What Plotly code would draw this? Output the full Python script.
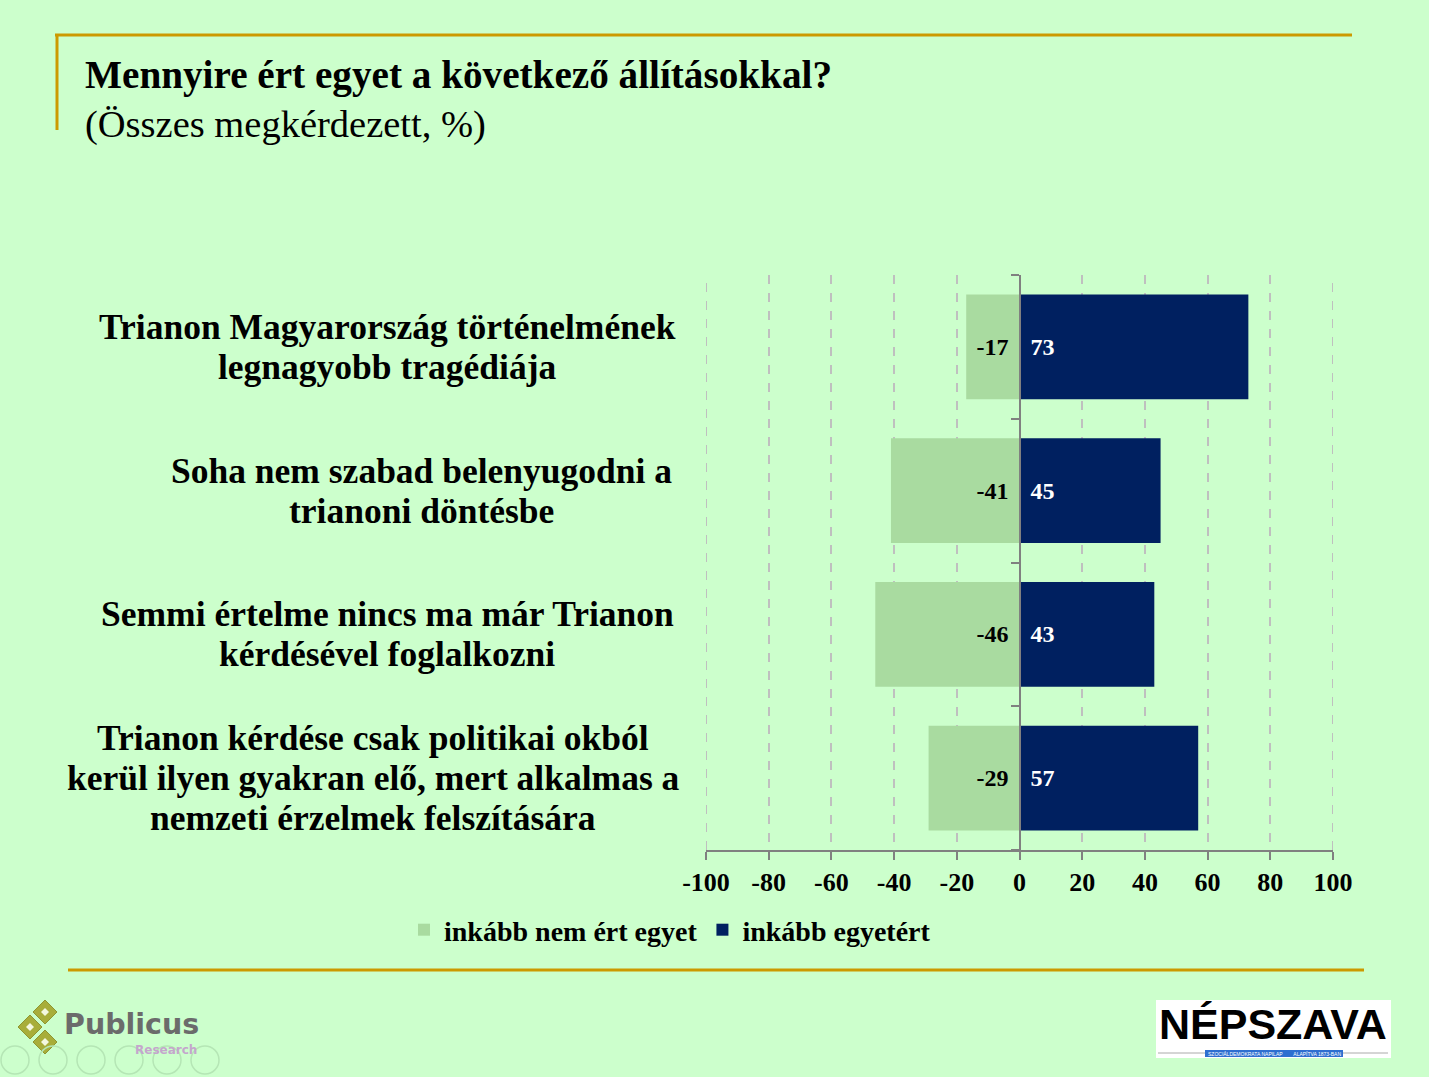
import plotly.graph_objects as go

W, H = 1429, 1077

categories = [
    "Trianon Magyarország történelmének<br>legnagyobb tragédiája",
    "Soha nem szabad belenyugodni a<br>trianoni döntésbe",
    "Semmi értelme nincs ma már Trianon<br>kérdésével foglalkozni",
    "Trianon kérdése csak politikai okból<br>kerül ilyen gyakran elő, mert alkalmas a<br>nemzeti érzelmek felszítására",
]
disagree = [-17, -41, -46, -29]
agree = [73, 45, 43, 57]
series_names = ["inkább nem ért egyet", "inkább egyetért"]
tick_vals = [-100, -80, -60, -40, -20, 0, 20, 40, 60, 80, 100]
tick_text = ["-100", "-80", "-60", "-40", "-20", "0", "20", "40", "60", "80", "100"]

title = "Mennyire ért egyet a következő állításokkal?"
subtitle = "(Összes megkérdezett, %)"

FONT = "Liberation Serif"
BG = "#CCFFCC"
LIGHT = "#A9DBA0"
DARK = "#002060"
GOLD = "#CC9900"
GRAY = "#808080"
GRID = "#BFBFBF"
PAD = "\u00a0\u200a"

# layout: horizontal centre (px) of each category label block, line spacing
label_centers = [387, 422, 387, 373]
LINE_GAP = 40

def px(x):
    return x / W

def py(y):
    return 1 - y / H

xd = [px(706), px(1333)]
yd = [py(850), py(275)]

fig = go.Figure()
fig.add_trace(go.Bar(
    y=categories, x=disagree, orientation="h", name=series_names[0],
    marker=dict(color=LIGHT, line=dict(width=0)),
    text=[str(v) + PAD for v in disagree], textposition="inside", insidetextanchor="start",
    textfont=dict(family=FONT, size=24, color="black", weight="bold"),
    hoverinfo="skip",
))
fig.add_trace(go.Bar(
    y=categories, x=agree, orientation="h", name=series_names[1],
    marker=dict(color=DARK, line=dict(width=0)),
    text=[PAD + str(v) for v in agree], textposition="inside", insidetextanchor="start",
    textfont=dict(family=FONT, size=24, color="white", weight="bold"),
    hoverinfo="skip",
))

annotations = []
for c, cx in zip(categories, label_centers):
    lines = c.split("<br>")
    n = len(lines)
    for i, ln in enumerate(lines):
        annotations.append(dict(
            x=px(cx), xref="paper", y=c, yref="y", text=ln, showarrow=False,
            xanchor="center", yanchor="middle", yshift=((n - 1) / 2 - i) * LINE_GAP,
            font=dict(family=FONT, size=35.5, color="black", weight="bold"),
        ))
annotations.append(dict(x=px(83), y=py(75), xref="paper", yref="paper", text=title,
                        showarrow=False, xanchor="left", yanchor="middle",
                        font=dict(family=FONT, size=39.2, color="black", weight="bold")))
annotations.append(dict(x=px(83), y=py(125), xref="paper", yref="paper", text=subtitle,
                        showarrow=False, xanchor="left", yanchor="middle",
                        font=dict(family=FONT, size=38.5, color="black")))
# Publicus logo text
annotations.append(dict(x=px(62), y=py(1024), xref="paper", yref="paper", text="<b>Publicus</b>",
                        showarrow=False, xanchor="left", yanchor="middle",
                        font=dict(family="DejaVu Sans", size=28.5, color="#6B6B6B")))
annotations.append(dict(x=px(199), y=py(1050), xref="paper", yref="paper", text="<b>Research</b>",
                        showarrow=False, xanchor="right", yanchor="middle",
                        font=dict(family="DejaVu Sans", size=12, color="#C4A6CC")))
# Népszava logo text
annotations.append(dict(x=px(1273), y=py(1024), xref="paper", yref="paper", text="<b>NÉPSZAVA</b>",
                        showarrow=False, xanchor="center", yanchor="middle",
                        font=dict(family="Liberation Sans", size=43, color="black")))
annotations.append(dict(x=px(1274), y=py(1054), xref="paper", yref="paper",
                        text="SZOCIÁLDEMOKRATA NAPILAP        ALAPÍTVA 1873-BAN",
                        showarrow=False, xanchor="center", yanchor="middle",
                        font=dict(family="Liberation Sans", size=5, color="white")))

shapes = [
    dict(type="line", xref="paper", yref="paper", x0=px(55), x1=px(1352), y0=py(35), y1=py(35),
         line=dict(color=GOLD, width=3)),
    dict(type="line", xref="paper", yref="paper", x0=px(57), x1=px(57), y0=py(35), y1=py(130),
         line=dict(color=GOLD, width=3)),
    dict(type="line", xref="paper", yref="paper", x0=px(68), x1=px(1364), y0=py(970), y1=py(970),
         line=dict(color=GOLD, width=3)),
    # Népszava box
    dict(type="rect", xref="paper", yref="paper", x0=px(1156), x1=px(1391), y0=py(1058), y1=py(1000),
         fillcolor="white", line=dict(width=0), layer="below"),
    dict(type="line", xref="paper", yref="paper", x0=px(1158), x1=px(1388), y0=py(1053), y1=py(1053),
         line=dict(color="#AAAAAA", width=1)),
    dict(type="rect", xref="paper", yref="paper", x0=px(1205), x1=px(1343), y0=py(1057), y1=py(1050),
         fillcolor="#2E6FD0", line=dict(width=0)),
]
# edge gridlines at the ends of the value axis (Plotly omits them)
for v in (tick_vals[0], tick_vals[-1]):
    shapes.append(dict(type="line", xref="x", yref="y domain", x0=v, x1=v, y0=0, y1=1,
                       line=dict(color=GRID, width=2, dash="dash"), layer="below"))
# Publicus diamonds
for cx, cy in [(45, 1012), (30, 1027), (45, 1042)]:
    s = 12
    path = "M {} {} L {} {} L {} {} L {} {} Z".format(
        px(cx), py(cy - s), px(cx + s), py(cy), px(cx), py(cy + s), px(cx - s), py(cy))
    shapes.append(dict(type="path", xref="paper", yref="paper", path=path,
                       fillcolor="#A8AD3A", line=dict(color="#8E9530", width=1)))
    s2 = 4
    path2 = "M {} {} L {} {} L {} {} L {} {} Z".format(
        px(cx), py(cy - s2), px(cx + s2), py(cy), px(cx), py(cy + s2), px(cx - s2), py(cy))
    shapes.append(dict(type="path", xref="paper", yref="paper", path=path2,
                       fillcolor="#F4F8E0", line=dict(width=0)))
# faint slide navigation circles
for cx in [15, 53, 91, 129, 167, 205]:
    shapes.append(dict(type="circle", xref="paper", yref="paper",
                       x0=px(cx - 14), x1=px(cx + 14), y0=py(1074), y1=py(1046),
                       line=dict(color="#B5E6B5", width=1.5)))

zero_pos = xd[0] + (xd[1] - xd[0]) * 0.5

fig.update_layout(
    width=W, height=H,
    margin=dict(l=0, r=0, t=0, b=0, pad=0, autoexpand=False),
    paper_bgcolor=BG, plot_bgcolor=BG,
    barmode="relative", bargap=0.27,
    font=dict(family=FONT, color="black"),
    showlegend=True,
    legend=dict(orientation="h", x=px(670), xanchor="center", y=py(930), yanchor="middle",
                font=dict(family=FONT, size=28, color="black", weight="bold"),
                bgcolor="rgba(0,0,0,0)", traceorder="normal", itemwidth=30),
    xaxis=dict(domain=xd, range=[-100, 100], tickvals=tick_vals, ticktext=tick_text,
               tickfont=dict(family=FONT, size=26, color="black", weight="bold"),
               showgrid=True, gridcolor=GRID, griddash="dash", gridwidth=2,
               zeroline=False, showline=True, linecolor=GRAY, linewidth=2,
               ticks="outside", ticklen=8, tickcolor=GRAY, tickwidth=2, fixedrange=True),
    yaxis=dict(domain=yd, categoryorder="array", categoryarray=categories[::-1],
               anchor="free", position=zero_pos,
               showticklabels=False, showgrid=False, zeroline=False,
               showline=True, linecolor=GRAY, linewidth=2,
               ticks="outside", tickson="boundaries", ticklen=8, tickcolor=GRAY, tickwidth=2,
               fixedrange=True),
    annotations=annotations,
    shapes=shapes,
)

fig.write_html(
    "out.html",
    config={"displayModeBar": False},
    post_script="document.body.style.margin='0';document.body.style.padding='0';"
                "document.body.style.overflow='hidden';document.body.style.background='#CCFFCC';",
)
